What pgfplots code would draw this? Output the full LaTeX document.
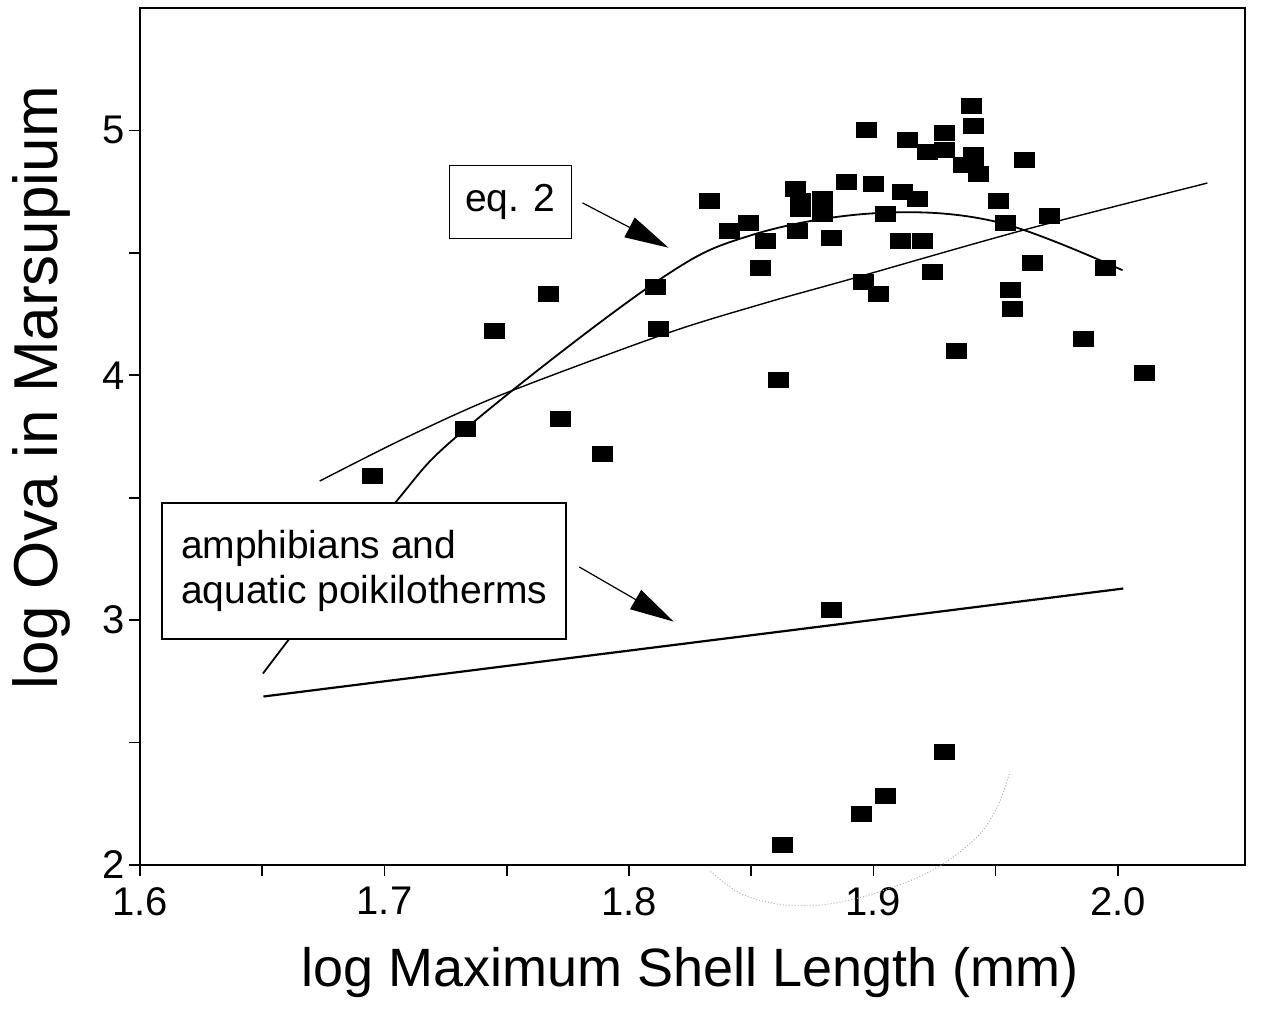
\documentclass[border=0pt]{standalone}
\usepackage{fontspec}
\setmainfont{Liberation Sans}
\usepackage{pgfplots}
\pgfplotsset{compat=1.18}
\usetikzlibrary{arrows.meta}

% filled, slightly wide square marker as in the scan
\pgfdeclareplotmark{blk}{%
  \pgfpathrectangle{\pgfpoint{-5.25pt}{-4pt}}{\pgfpoint{10.5pt}{8pt}}%
  \pgfusepathqfill}

\begin{document}
\begin{tikzpicture}
\begin{axis}[
  scale only axis,
  width=552.5pt, height=428.5pt,
  xmin=1.6, xmax=2.052, ymin=2, ymax=5.5,
  xtick={1.6,1.7,1.8,1.9,2.0},
  xticklabels={1.6,1.7,1.8,1.9,2.0},
  ytick={2,3,4,5},
  yticklabels={2,3,4,5},
  minor xtick={1.65,1.75,1.85,1.95},
  minor ytick={2.5,3.5,4.5},
  tick pos=left, tick align=outside,
  major tick length=5.5pt, minor tick length=5.5pt,
  every tick/.style={black, line width=0.8pt},
  axis line style={line width=1pt},
  /pgf/number format/assume math mode=true,
  ticklabel style={font=\fontsize{20}{24}\selectfont, inner sep=1pt},
  xticklabel style={yshift=-4.5pt},
  yticklabel style={xshift=-1pt},
  xlabel={log Maximum Shell Length (mm)},
  ylabel={log Ova in Marsupium},
  xlabel style={font=\fontsize{27}{32}\selectfont, at={(axis description cs:0.498,-0.125)}, anchor=center},
  ylabel style={font=\fontsize{31}{36}\selectfont, at={(axis description cs:-0.089,0.557)}, anchor=center},
  clip=false,
]

% faint pencil arc near the bottom
\addplot[gray!60, line width=0.5pt, densely dotted, smooth] coordinates {
  (1.8334,1.973) (1.8459,1.882) (1.8624,1.838) (1.8800,1.838)
  (1.8979,1.876) (1.9165,1.942) (1.9303,2.016) (1.9435,2.125)
  (1.9513,2.250) (1.9559,2.382)
};

% eq. 2
\addplot[black, line width=0.9pt, smooth, tension=0.6] coordinates {
  (1.6503,2.782) (1.7033,3.466) (1.7335,3.784)
  (1.8105,4.377) (1.8497,4.571)
  (1.9010,4.662) (1.9502,4.627) (2.0019,4.429)
};

% second fitted line
\addplot[black, line width=0.7pt, smooth, tension=0.5] coordinates {
  (1.6735,3.568) (1.7087,3.745) (1.7475,3.919) (1.8145,4.168)
  (1.8557,4.295) (1.8911,4.394) (1.9614,4.593) (2.0366,4.785)
};

% amphibians and aquatic poikilotherms
\addplot[black, line width=1.1pt] coordinates {
  (1.6505,2.688) (2.0022,3.129)
};

\addplot[only marks, mark=blk, black] coordinates {
  (1.695,3.59) (1.733,3.78) (1.745,4.18) (1.767,4.33) (1.772,3.82)
  (1.789,3.68) (1.811,4.36) (1.812,4.19) (1.833,4.71) (1.841,4.59)
  (1.849,4.62) (1.856,4.55) (1.854,4.44) (1.861,3.98) (1.868,4.76)
  (1.870,4.71) (1.879,4.72) (1.879,4.66) (1.870,4.68) (1.869,4.59)
  (1.883,4.56) (1.889,4.79) (1.900,4.78) (1.912,4.75) (1.918,4.72)
  (1.897,5.00) (1.914,4.96) (1.922,4.91) (1.929,4.99) (1.929,4.92)
  (1.940,5.10) (1.941,5.02) (1.941,4.90) (1.937,4.86) (1.943,4.82)
  (1.941,4.86) (1.962,4.88) (1.905,4.66) (1.911,4.55) (1.920,4.55)
  (1.951,4.71) (1.954,4.62) (1.972,4.65) (1.995,4.44) (1.896,4.38)
  (1.902,4.33) (1.924,4.42) (1.965,4.46) (1.956,4.35) (1.957,4.27)
  (1.934,4.10) (1.986,4.15) (2.011,4.01) (1.883,3.04) (1.929,2.46)
  (1.905,2.28) (1.895,2.21) (1.863,2.08)
};

% labels and arrows
\node[draw, line width=0.8pt, fill=white, minimum width=61pt, minimum height=36.5pt,
  font=\fontsize{19.5}{22.5}\selectfont] at (axis cs:1.7515,4.708) {eq. 2};
\draw[line width=0.6pt, -{Triangle[length=22pt,width=11pt]}]
  (axis cs:1.781,4.704) -- (axis cs:1.8162,4.521);

\node[draw, line width=0.8pt, fill=white, minimum width=202pt, minimum height=68pt,
  align=left, inner sep=6pt, font=\fontsize{19.5}{22.5}\selectfont]
  at (axis cs:1.6917,3.201) {amphibians and\\aquatic poikilotherms};
\draw[line width=0.6pt, -{Triangle[length=22pt,width=11pt]}]
  (axis cs:1.7797,3.217) -- (axis cs:1.8183,2.994);
\end{axis}
\pgfresetboundingbox
\path ([shift={(-70pt,-80pt)}]current axis.south west)
  rectangle ([shift={(10.5pt,4pt)}]current axis.north east);
\end{tikzpicture}
\end{document}
